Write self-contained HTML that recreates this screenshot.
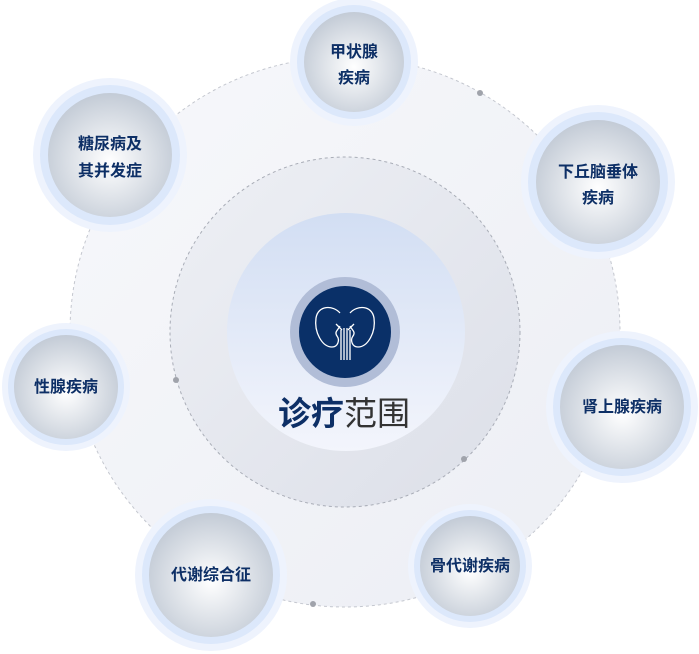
<!DOCTYPE html>
<html><head><meta charset="utf-8"><style>
html,body{margin:0;padding:0;background:#fff;}
svg{display:block;}
text{font-family:"Liberation Sans","Noto Sans CJK SC",sans-serif;}
</style></head><body>
<svg width="699" height="654" viewBox="0 0 699 654" xmlns="http://www.w3.org/2000/svg">
<defs>
<linearGradient id="bgO" x1="0" y1="0" x2="1" y2="1"><stop offset="0" stop-color="#f7f8fb"/><stop offset="1" stop-color="#eceef4"/></linearGradient>
<linearGradient id="bgM" x1="0" y1="0" x2="1" y2="1"><stop offset="0" stop-color="#eef0f5"/><stop offset="1" stop-color="#dcdfe8"/></linearGradient>
<linearGradient id="bgI" x1="0" y1="0" x2="0" y2="1"><stop offset="0" stop-color="#d2def3"/><stop offset="1" stop-color="#f3f5fc"/></linearGradient>
<radialGradient id="node" cx="0.5" cy="0.55" r="0.55"><stop offset="0" stop-color="#ffffff"/><stop offset="1" stop-color="#c3cbd6"/></radialGradient>
</defs>
<circle cx="345" cy="332" r="275" fill="url(#bgO)" stroke="#c4c7cf" stroke-width="1" stroke-dasharray="3 3"/>
<circle cx="345" cy="332" r="175" fill="url(#bgM)" stroke="#a9adb7" stroke-width="1" stroke-dasharray="3 3"/>
<circle cx="346" cy="332" r="119" fill="url(#bgI)"/>
<circle cx="345" cy="332" r="55" fill="#b1bdd7"/>
<circle cx="345" cy="332" r="46" fill="#0a3068"/>
<g fill="none" stroke="#fff" stroke-width="1.3">
<path d="M340 313 C333 305 318 305 316 318 C314 332 322 347 332 347 C338 347 340 340 337 336 C334 332 338 330 340 326"/>
<path d="M350 313 C357 305 372 305 374 318 C376 332 368 347 358 347 C352 347 350 340 353 336 C356 332 352 330 350 326"/>
<path d="M341 330 L341 360 M344 328 L344 360 M347 328 L347 360 M350 330 L350 360"/>
<path d="M336 324 L342 330 M354 324 L348 330"/>
</g>
<text x="344" y="425" text-anchor="middle" font-size="33"><tspan fill="#0d2f66" font-weight="bold">诊疗</tspan><tspan fill="#333">范围</tspan></text>
<g fill="#a0a3ab"><circle cx="480" cy="93" r="3"/><circle cx="176" cy="380" r="3"/><circle cx="464" cy="459" r="3"/><circle cx="313" cy="604" r="3"/></g>
<g font-size="16" font-weight="bold" fill="#0d2f66" text-anchor="middle">
<g><circle cx="354" cy="62" r="64" fill="#eef3fd"/><circle cx="354" cy="62" r="57" fill="#dce8fb"/><circle cx="354" cy="62" r="50" fill="url(#node)"/><text x="354" y="57">甲状腺</text><text x="354" y="83">疾病</text></g>
<g><circle cx="598" cy="182" r="77" fill="#eef3fd"/><circle cx="598" cy="182" r="70" fill="#dce8fb"/><circle cx="598" cy="182" r="62" fill="url(#node)"/><text x="598" y="177">下丘脑垂体</text><text x="598" y="203">疾病</text></g>
<g><circle cx="622" cy="407" r="76" fill="#eef3fd"/><circle cx="622" cy="407" r="69" fill="#dce8fb"/><circle cx="622" cy="407" r="62" fill="url(#node)"/><text x="622" y="412">肾上腺疾病</text></g>
<g><circle cx="470" cy="566" r="62" fill="#eef3fd"/><circle cx="470" cy="566" r="56" fill="#dce8fb"/><circle cx="470" cy="566" r="50" fill="url(#node)"/><text x="470" y="571">骨代谢疾病</text></g>
<g><circle cx="211" cy="575" r="76" fill="#eef3fd"/><circle cx="211" cy="575" r="69" fill="#dce8fb"/><circle cx="211" cy="575" r="62" fill="url(#node)"/><text x="211" y="580">代谢综合征</text></g>
<g><circle cx="66" cy="387" r="64" fill="#eef3fd"/><circle cx="66" cy="387" r="58" fill="#dce8fb"/><circle cx="66" cy="387" r="52" fill="url(#node)"/><text x="66" y="392">性腺疾病</text></g>
<g><circle cx="110" cy="155" r="77" fill="#eef3fd"/><circle cx="110" cy="155" r="70" fill="#dce8fb"/><circle cx="110" cy="155" r="62" fill="url(#node)"/><text x="110" y="149">糖尿病及</text><text x="110" y="176">其并发症</text></g>
</g>
</svg>
</body></html>
